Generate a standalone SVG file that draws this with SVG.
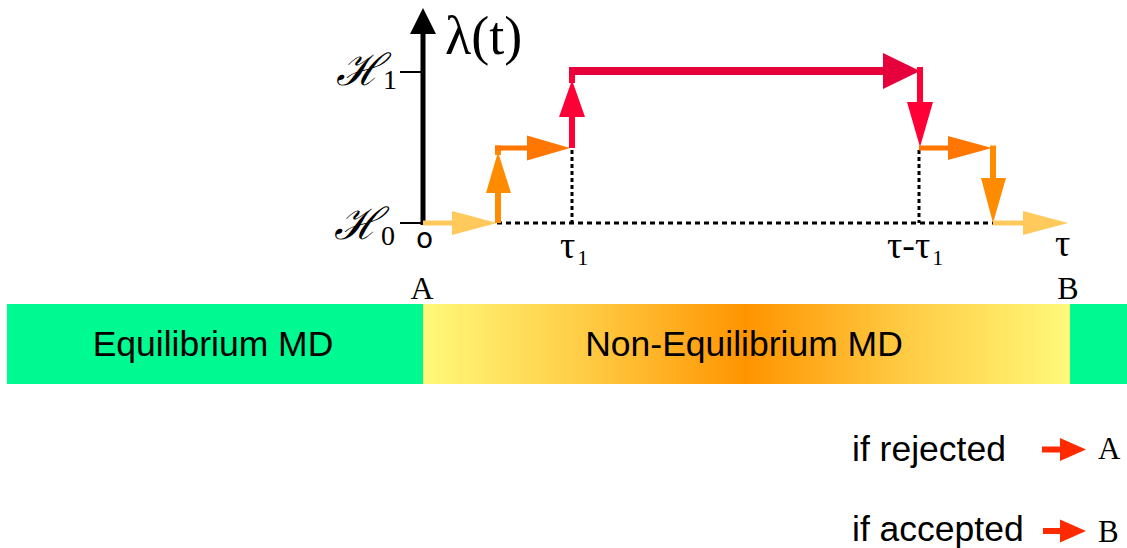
<svg xmlns="http://www.w3.org/2000/svg" width="1127" height="548" viewBox="0 0 1127 548">
<defs>
<linearGradient id="neq" x1="423" y1="0" x2="1070" y2="0" gradientUnits="userSpaceOnUse">
<stop offset="0" stop-color="#FFF97A"/>
<stop offset="0.25" stop-color="#FFCC45"/>
<stop offset="0.5" stop-color="#FF9400"/>
<stop offset="0.75" stop-color="#FFCC45"/>
<stop offset="1" stop-color="#FFF97A"/>
</linearGradient>
</defs>
<style>
.sans{font-family:"Liberation Sans",Arial,sans-serif;font-size:35.5px;fill:#000}
.serif{font-family:"Liberation Serif","Times New Roman",serif;fill:#000}
.script{font-family:"DejaVu Serif","Liberation Serif",serif;font-style:italic;fill:#000}
.tau{font-family:"Liberation Serif","DejaVu Serif",serif;fill:#000}
.lo{stroke:#FFC95C;fill:none}
.ov{stroke:#FF8C00;fill:none}
.oh{stroke:#FF7700;fill:none}
.rv{stroke:#FF0036;fill:none}
.ch{stroke:#E6003C;fill:none}
</style>
<g id="bar">
<rect x="7" y="304" width="416" height="80" fill="#00FA92"/>
<rect x="423" y="304" width="647" height="80" fill="url(#neq)"/>
<rect x="1070" y="304" width="57" height="80" fill="#00FA92"/>
<text class="sans" x="213" y="356" text-anchor="middle">Equilibrium MD</text>
<text class="sans" x="744" y="356" text-anchor="middle">Non-Equilibrium MD</text>
<text class="serif" x="422" y="299" font-size="32" text-anchor="middle">A</text>
<text class="serif" x="1068" y="299" font-size="32" text-anchor="middle">B</text>
</g>
<g id="axis">
<line x1="423" y1="225" x2="423" y2="32" stroke="#000" stroke-width="5"/>
<polygon points="410,34 436,34 423,8" fill="#000"/>
<line x1="400" y1="72" x2="423" y2="72" stroke="#000" stroke-width="2"/>
<line x1="400" y1="223" x2="423" y2="223" stroke="#000" stroke-width="2"/>
<text class="serif" x="445" y="54" font-size="54">λ(t)</text>
<text class="script" x="336" y="85" font-size="44">ℋ<tspan class="serif" font-style="normal" font-size="28" dy="4">1</tspan></text>
<text class="script" x="334" y="239" font-size="44">ℋ<tspan class="serif" font-style="normal" font-size="28" dy="6">0</tspan></text>
<text class="tau" x="416" y="248" font-size="28" style="font-family:'DejaVu Sans',sans-serif">o</text>
<text class="tau" x="560" y="258" font-size="38">τ<tspan font-size="22" dx="2" dy="7">1</tspan></text>
<text class="tau" x="887" y="258" font-size="38">τ-τ<tspan font-size="22" dx="2" dy="7">1</tspan></text>
<text class="tau" x="1055" y="256" font-size="38">τ</text>
</g>
<g id="connectors">
<line x1="497" y1="223" x2="993" y2="223" stroke="#000" stroke-width="3" stroke-dasharray="5 4"/>
<line x1="572" y1="150" x2="572" y2="223" stroke="#000" stroke-width="3" stroke-dasharray="4 3"/>
<line x1="919" y1="150" x2="919" y2="223" stroke="#000" stroke-width="3" stroke-dasharray="4 3"/>
<line class="lo" x1="423" y1="223" x2="455" y2="223" stroke-width="5"/>
<polygon points="452,211 497,223 452,235" fill="#FFC95C"/>
<line class="ov" x1="498" y1="223" x2="498" y2="190" stroke-width="6"/>
<polygon points="486,193 511,193 498,152" fill="#FF8C00"/>
<line class="ov" x1="498" y1="155" x2="498" y2="145.5" stroke-width="6"/>
<line class="oh" x1="495" y1="148" x2="530" y2="148" stroke-width="5"/>
<polygon points="527,135.5 570,148 527,160.5" fill="#FF7700"/>
<line class="rv" x1="572" y1="148" x2="572" y2="114" stroke-width="6"/>
<polygon points="559,117 585,117 572,80" fill="#FF0036"/>
<line class="rv" x1="572" y1="83" x2="572" y2="67" stroke-width="6"/>
<line class="ch" x1="569" y1="71" x2="886" y2="71" stroke-width="8"/>
<polygon points="883,53 920,71 883,89" fill="#E6003C"/>
<line class="rv" x1="920" y1="67" x2="920" y2="105" stroke-width="6"/>
<polygon points="907,102 933,102 920,147" fill="#FF0036"/>
<line class="oh" x1="919" y1="148" x2="951" y2="148" stroke-width="5"/>
<polygon points="948,136 992,148 948,160" fill="#FF7700"/>
<line class="ov" x1="993" y1="145.5" x2="993" y2="181" stroke-width="6"/>
<polygon points="981,178 1006,178 993,223" fill="#FF8C00"/>
<line class="lo" x1="993" y1="223" x2="1026" y2="223" stroke-width="5"/>
<polygon points="1023,211 1068,223 1023,235" fill="#FFC95C"/>
</g>
<g id="legend">
<text class="sans" x="852" y="461">if rejected</text>
<line x1="1042" y1="449.5" x2="1063" y2="449.5" stroke="#FF2A00" stroke-width="6"/>
<polygon points="1060,438 1086,449.5 1060,461" fill="#FF2A00"/>
<text class="serif" x="1098" y="459" font-size="31">A</text>
<text class="sans" x="852" y="541">if accepted</text>
<line x1="1043" y1="531" x2="1063" y2="531" stroke="#FF2A00" stroke-width="6"/>
<polygon points="1060,519.5 1086,531 1060,542.5" fill="#FF2A00"/>
<text class="serif" x="1098" y="542" font-size="31">B</text>
</g>
</svg>
